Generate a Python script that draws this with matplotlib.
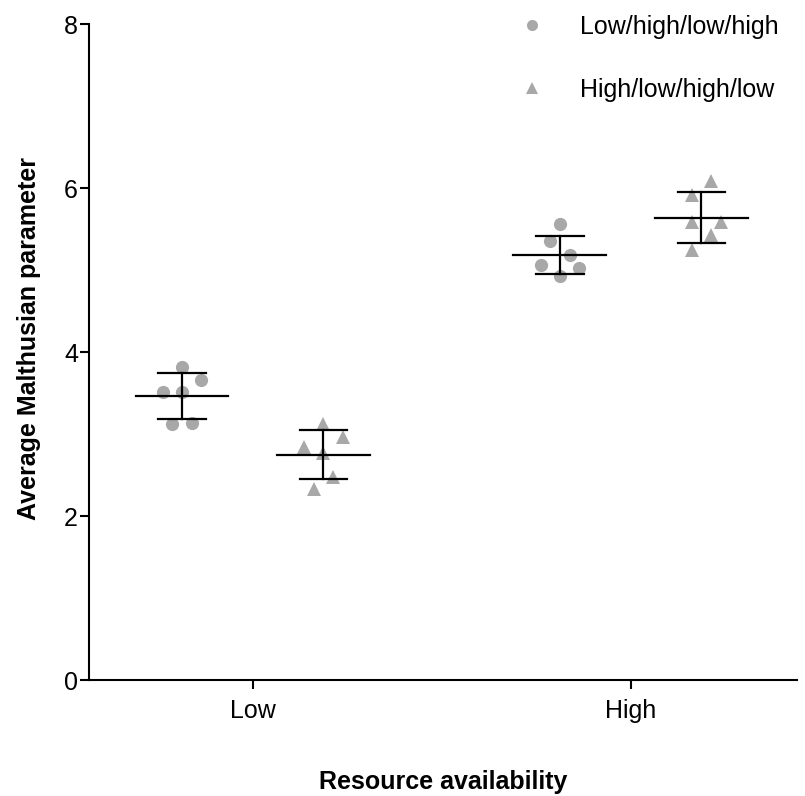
import numpy as np
import matplotlib
matplotlib.use("Agg")
import matplotlib.pyplot as plt

plt.rcParams["font.family"] = ["Liberation Sans", "DejaVu Sans"]

CATEGORIES = ["Low", "High"]
SERIES = ["Low/high/low/high", "High/low/high/low"]

# Average Malthusian parameter per replicate
LOW_CIRCLES = [3.82, 3.66, 3.51, 3.51, 3.12, 3.14]
LOW_TRIANGLES = [3.12, 2.96, 2.84, 2.77, 2.48, 2.33]
HIGH_CIRCLES = [5.56, 5.35, 5.18, 5.06, 5.02, 4.93]
HIGH_TRIANGLES = [6.08, 5.91, 5.59, 5.59, 5.43, 5.24]

# horizontal scatter of points within a column (in jitter steps)
JITTER_LC = [0, 2, -2, 0, -1, 1]
JITTER_LT = [0, 2, -2, 0, 1, -1]
JITTER_HC = [0, -1, 1, -2, 2, 0]
JITTER_HT = [1, -1, -1, 2, 1, -1]

GREY = "#a8a8a8"
STEP = 0.0255
OFFSET = 0.187
MEAN_HW = 0.123
CAP_HW = 0.063
FS = 18

groups = [
    (0, -OFFSET, LOW_CIRCLES, JITTER_LC, "o"),
    (0, OFFSET, LOW_TRIANGLES, JITTER_LT, "^"),
    (1, -OFFSET, HIGH_CIRCLES, JITTER_HC, "o"),
    (1, OFFSET, HIGH_TRIANGLES, JITTER_HT, "^"),
]

fig = plt.figure(figsize=(8.05, 7.96), dpi=100)
ax = fig.add_axes([0.1106, 0.1457, 0.8794, 0.8241])

for cat, off, vals, jit, mk in groups:
    vals = np.asarray(vals)
    xc = cat + off
    xs = xc + np.asarray(jit) * STEP
    ms = 9.5 if mk == "o" else 10
    ax.plot(xs, vals, linestyle="none", marker=mk, ms=ms, color=GREY,
            markeredgewidth=0, zorder=2)
    m = vals.mean()
    sd = vals.std(ddof=1)
    ax.plot([xc - MEAN_HW, xc + MEAN_HW], [m, m], color="black", lw=1.6, zorder=3)
    ax.plot([xc, xc], [m - sd, m + sd], color="black", lw=1.6, zorder=3)
    for yv in (m - sd, m + sd):
        ax.plot([xc - CAP_HW, xc + CAP_HW], [yv, yv], color="black", lw=1.6, zorder=3)

# legend proxies
h1, = ax.plot([], [], linestyle="none", marker="o", ms=8, color=GREY, markeredgewidth=0)
h2, = ax.plot([], [], linestyle="none", marker="^", ms=8, color=GREY, markeredgewidth=0)
fig.legend([h1, h2], SERIES, loc="upper left", bbox_to_anchor=(0.633, 0.994),
           frameon=False, fontsize=FS, handlelength=1.0, handletextpad=1.4,
           labelspacing=1.55, borderaxespad=0, borderpad=0.4)

ax.set_xlim(-0.433, 1.44)
ax.set_ylim(0, 8)
ax.set_yticks([0, 2, 4, 6, 8])
ax.set_xticks([0, 1])
ax.set_xticklabels(CATEGORIES)
ax.spines["top"].set_visible(False)
ax.spines["right"].set_visible(False)
for s in ("left", "bottom"):
    ax.spines[s].set_linewidth(1.5)
ax.tick_params(axis="both", labelsize=FS, width=1.5, length=6.5)
ax.tick_params(axis="y", pad=1.5)
ax.tick_params(axis="x", pad=7)

ax.set_ylabel("Average Malthusian parameter", fontsize=FS, fontweight="bold")
ax.set_xlabel("Resource availability", fontsize=FS, fontweight="bold")
ax.yaxis.set_label_coords(-0.068, 0.521)
ax.xaxis.set_label_coords(0.5, -0.137)

fig.savefig("out.png", dpi=100)
